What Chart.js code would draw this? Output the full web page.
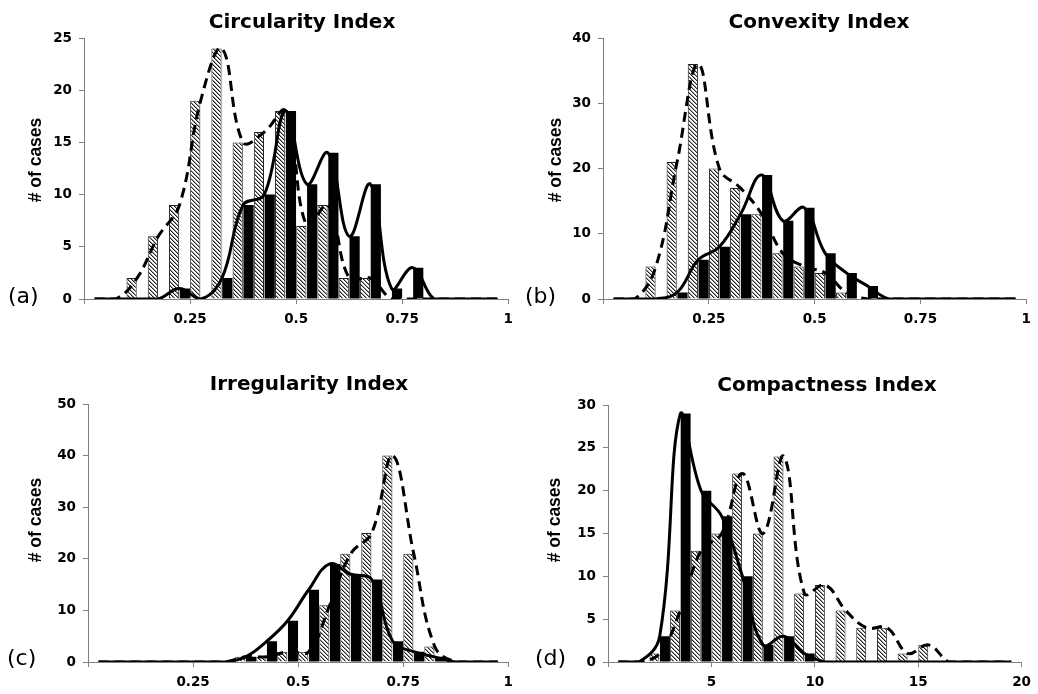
<!DOCTYPE html>
<html>
<head>
<meta charset="utf-8">
<script src="https://cdn.jsdelivr.net/npm/chart.js@4.4.1/dist/chart.umd.min.js"></script>
<style>
  body { margin: 0; background: #fff; }
  #wrap { position: relative; width: 1038px; height: 694px; overflow: hidden; }
  canvas { position: absolute; }
</style>
</head>
<body>
<div id="wrap">
  <canvas id="circ" width="520" height="340" style="left:0;top:0"></canvas>
  <canvas id="conv" width="518" height="340" style="left:520px;top:0"></canvas>
  <canvas id="irreg" width="520" height="354" style="left:0;top:340px"></canvas>
  <canvas id="comp" width="518" height="354" style="left:520px;top:340px"></canvas>
</div>
<script>
// ---- data (bar bins, black / hatched counts, smoothed curve points) ----
const indexCurveX = [0.025,0.075,0.125,0.175,0.225,0.275,0.325,0.375,0.425,0.475,0.525,0.575,0.625,0.675,0.725,0.775,0.825,0.875,0.925,0.975]

// (a) Circularity
const circBins    = [0.10,0.15,0.20,0.25,0.30,0.35,0.40,0.45,0.50,0.55,0.60,0.65,0.70,0.75,0.80]
const circBlack   = [0,0,0,1,0,2,9,10,18,11,14,6,11,1,3]
const circHatched = [2,6,9,19,24,15,16,18,7,9,2,2,0,0,0]
const circSolid   = [0,0,0,0,1,0,2,9,10,18,11,14,6,11,1,3,0,0,0,0]
const circDashed  = [0,0,2,6,9,19,24,15,16,18,7,9,2,2,0,0,0,0,0,0]

// (b) Convexity
const convBins    = [0.10,0.15,0.20,0.25,0.30,0.35,0.40,0.45,0.50,0.55,0.60,0.65]
const convBlack   = [0,0,1,6,8,13,19,12,14,7,4,2]
const convHatched = [5,21,36,20,17,13,7,5,4,1,0,0]
const convSolid   = [0,0,0,1,6,8,13,19,12,14,7,4,2,0,0,0,0,0,0,0]
const convDashed  = [0,0,5,21,36,20,17,13,7,5,4,1,0,0,0,0,0,0,0,0]

// (c) Irregularity
const irregBins    = [0.35,0.40,0.45,0.50,0.55,0.60,0.65,0.70,0.75,0.80,0.85]
const irregBlack   = [0,1,4,8,14,19,17,16,4,2,1]
const irregHatched = [1,1,2,2,11,21,25,40,21,3,0]
const irregSolid   = [0,0,0,0,0,0,0,1,4,8,14,19,17,16,4,2,1,0,0,0]
const irregDashed  = [0,0,0,0,0,0,0,1,1,2,2,11,21,25,40,21,3,0,0,0]

// (d) Compactness
const compBins    = [2,3,4,5,6,7,8,9,10,11,12,13,14,15]
const compBlack   = [0,3,29,20,17,10,2,3,1,0,0,0,0,0]
const compHatched = [1,6,13,15,22,15,24,8,9,6,4,4,1,2]
const compCurveX  = [0.5,1.5,2.5,3.5,4.5,5.5,6.5,7.5,8.5,9.5,10.5,11.5,12.5,13.5,14.5,15.5,16.5,17.5,18.5,19.5]
const compSolid   = [0,0,3,29,20,17,10,2,3,1,0,0,0,0,0,0,0,0,0,0]
const compDashed  = [0,0,1,6,13,15,22,15,24,8,9,6,4,4,1,2,0,0,0,0]

// titles, panel letter, y title drawn at fixed spots
const panelDecor = {
    id: 'panelDecor',
    afterDraw(chart, args, o) {
        const ctx = chart.ctx
        ctx.save()
        ctx.fillStyle = '#000'
        ctx.textAlign = 'center'
        ctx.textBaseline = 'alphabetic'
        ctx.font = 'bold 20px "DejaVu Sans"'
        ctx.fillText(o.title, o.titleX, o.titleY)

        ctx.textAlign = 'left'
        ctx.textBaseline = 'middle'
        ctx.font = '22px "DejaVu Sans"'
        ctx.fillText(o.letter, o.letterX, o.letterY)

        ctx.translate(o.yTitleX, o.yTitleY)
        ctx.rotate(-Math.PI / 2)
        ctx.textAlign = 'center'
        ctx.font = 'bold 17.5px "Liberation Sans"'
        ctx.fillText('# of cases', 0, 0)
        ctx.restore()
    }
}
Chart.register(panelDecor)

// crisp "\" stripes, one dark pixel + one grey pixel per row
function makeHatch(ctx) {
    const s = 4
    const tile = document.createElement('canvas')
    tile.width = s
    tile.height = s
    const g = tile.getContext('2d')
    g.fillStyle = '#fff'
    g.fillRect(0, 0, s, s)
    for (let i = 0; i < s; i++) {
        g.fillStyle = '#222'
        g.fillRect(i, i, 1, 1)
        g.fillStyle = '#9a9a9a'
        g.fillRect((i + 1) % s, i, 1, 1)
    }
    return ctx.createPattern(tile, 'repeat')
}

const tickFont = { family: 'DejaVu Sans', weight: 'bold', size: 13.5 }
const axisGray = '#808080'

function buildPanel(id, p) {
    const ctx = document.getElementById(id).getContext('2d')
    const hatch = makeHatch(ctx)
    return new Chart(ctx, {
        type: 'bar',
        data: {
            datasets: [
                {
                    type: 'line',
                    data: p.curveX.map((x, i) => ({ x: x, y: p.solid[i] })),
                    borderColor: '#000', borderWidth: 3,
                    tension: 0.4, pointRadius: 0, fill: false, order: 0
                },
                {
                    type: 'line',
                    data: p.curveX.map((x, i) => ({ x: x, y: p.dashed[i] })),
                    borderColor: '#000', borderWidth: 3, borderDash: [10, 6],
                    tension: 0.4, pointRadius: 0, fill: false, order: 0
                },
                {
                    data: p.bins.map((x, i) => ({ x: x, y: p.black[i] })),
                    backgroundColor: '#000', borderWidth: 0,
                    categoryPercentage: 0.98, barPercentage: 0.98, order: 1
                },
                {
                    data: p.bins.map((x, i) => ({ x: x, y: p.hatched[i] })),
                    backgroundColor: hatch, borderColor: '#222', borderWidth: 1,
                    categoryPercentage: 0.98, barPercentage: 0.98, order: 1
                }
            ]
        },
        options: {
            responsive: false,
            animation: false,
            layout: { padding: { left: 0, right: p.padRight, top: p.padTop, bottom: 0 } },
            plugins: {
                legend: { display: false },
                tooltip: { enabled: false },
                panelDecor: p.decor
            },
            scales: {
                x: {
                    type: 'linear', min: 0, max: p.xMax, offset: false,
                    grid: { offset: false, drawOnChartArea: false, tickLength: 5, color: axisGray },
                    border: { color: axisGray },
                    ticks: {
                        stepSize: p.xStep, font: tickFont, color: '#000', padding: 7, maxRotation: 0,
                        callback: v => (v === 0 ? '' : String(v))
                    },
                    afterFit: s => { s.height = p.xAxisH }
                },
                y: {
                    min: 0, max: p.yMax,
                    grid: { drawOnChartArea: false, tickLength: 5, color: axisGray },
                    border: { color: axisGray },
                    ticks: { stepSize: p.yStep, font: tickFont, color: '#000', padding: 7 },
                    afterFit: s => { s.width = p.yAxisW }
                }
            }
        }
    })
}

buildPanel('circ', {
    bins: circBins, black: circBlack, hatched: circHatched,
    curveX: indexCurveX, solid: circSolid, dashed: circDashed,
    xMax: 1, xStep: 0.25, yMax: 25, yStep: 5,
    yAxisW: 84, xAxisH: 41, padTop: 38, padRight: 10,
    decor: { title: 'Circularity Index', titleX: 302, titleY: 28, letter: '(a)', letterX: 8, letterY: 297, yTitleX: 36, yTitleY: 160 }
})

buildPanel('conv', {
    bins: convBins, black: convBlack, hatched: convHatched,
    curveX: indexCurveX, solid: convSolid, dashed: convDashed,
    xMax: 1, xStep: 0.25, yMax: 40, yStep: 10,
    yAxisW: 83, xAxisH: 41, padTop: 38, padRight: 10,
    decor: { title: 'Convexity Index', titleX: 299, titleY: 28, letter: '(b)', letterX: 5, letterY: 297, yTitleX: 36, yTitleY: 160 }
})

buildPanel('irreg', {
    bins: irregBins, black: irregBlack, hatched: irregHatched,
    curveX: indexCurveX, solid: irregSolid, dashed: irregDashed,
    xMax: 1, xStep: 0.25, yMax: 50, yStep: 10,
    yAxisW: 88, xAxisH: 32, padTop: 64, padRight: 11,
    decor: { title: 'Irregularity Index', titleX: 309, titleY: 50, letter: '(c)', letterX: 7, letterY: 319, yTitleX: 36, yTitleY: 180 }
})

buildPanel('comp', {
    bins: compBins, black: compBlack, hatched: compHatched,
    curveX: compCurveX, solid: compSolid, dashed: compDashed,
    xMax: 20, xStep: 5, yMax: 30, yStep: 5,
    yAxisW: 88, xAxisH: 32, padTop: 65, padRight: 10,
    decor: { title: 'Compactness Index', titleX: 307, titleY: 51, letter: '(d)', letterX: 15, letterY: 319, yTitleX: 35, yTitleY: 180 }
})
</script>
</body>
</html>
